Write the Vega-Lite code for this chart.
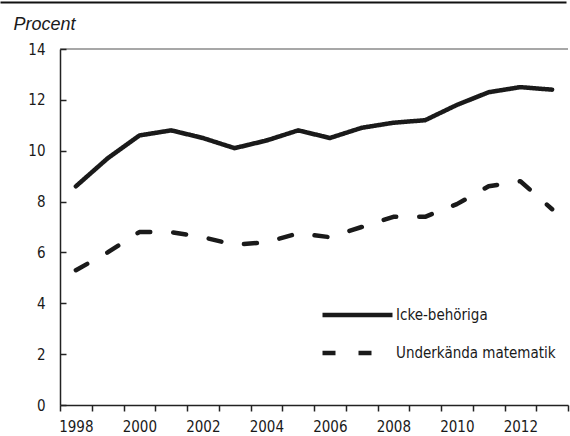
{
  "$schema": "https://vega.github.io/schema/vega-lite/v6.json",
  "width": 508,
  "height": 356,
  "autosize": {"type": "none"},
  "padding": {"left": 60, "top": 49, "right": 2, "bottom": 31},
  "config": {
    "font": "DejaVu Sans Condensed",
    "view": {"stroke": "#8a8a8a", "strokeWidth": 1.5, "strokeDash": [508, 5000]},
    "axis": {"labelFont": "DejaVu Sans Condensed", "labelFontSize": 15, "labelColor": "#1a1a1a", "domainColor": "#222", "tickColor": "#222", "grid": false}
  },
  "data": {
    "values": [
      {"year": 1998, "serie": "Icke-behöriga", "value": 8.6},
      {"year": 1999, "serie": "Icke-behöriga", "value": 9.7},
      {"year": 2000, "serie": "Icke-behöriga", "value": 10.6},
      {"year": 2001, "serie": "Icke-behöriga", "value": 10.8},
      {"year": 2002, "serie": "Icke-behöriga", "value": 10.5},
      {"year": 2003, "serie": "Icke-behöriga", "value": 10.1},
      {"year": 2004, "serie": "Icke-behöriga", "value": 10.4},
      {"year": 2005, "serie": "Icke-behöriga", "value": 10.8},
      {"year": 2006, "serie": "Icke-behöriga", "value": 10.5},
      {"year": 2007, "serie": "Icke-behöriga", "value": 10.9},
      {"year": 2008, "serie": "Icke-behöriga", "value": 11.1},
      {"year": 2009, "serie": "Icke-behöriga", "value": 11.2},
      {"year": 2010, "serie": "Icke-behöriga", "value": 11.8},
      {"year": 2011, "serie": "Icke-behöriga", "value": 12.3},
      {"year": 2012, "serie": "Icke-behöriga", "value": 12.5},
      {"year": 2013, "serie": "Icke-behöriga", "value": 12.4},
      {"year": 1998, "serie": "Underkända matematik", "value": 5.3},
      {"year": 1999, "serie": "Underkända matematik", "value": 6.0},
      {"year": 2000, "serie": "Underkända matematik", "value": 6.8},
      {"year": 2001, "serie": "Underkända matematik", "value": 6.8},
      {"year": 2002, "serie": "Underkända matematik", "value": 6.6},
      {"year": 2003, "serie": "Underkända matematik", "value": 6.3},
      {"year": 2004, "serie": "Underkända matematik", "value": 6.4},
      {"year": 2005, "serie": "Underkända matematik", "value": 6.75},
      {"year": 2006, "serie": "Underkända matematik", "value": 6.6},
      {"year": 2007, "serie": "Underkända matematik", "value": 7.0},
      {"year": 2008, "serie": "Underkända matematik", "value": 7.4},
      {"year": 2009, "serie": "Underkända matematik", "value": 7.4},
      {"year": 2010, "serie": "Underkända matematik", "value": 7.9},
      {"year": 2011, "serie": "Underkända matematik", "value": 8.6},
      {"year": 2012, "serie": "Underkända matematik", "value": 8.8},
      {"year": 2013, "serie": "Underkända matematik", "value": 7.7}
    ]
  },
  "layer": [
    {
      "mark": {"type": "line", "color": "#1a1a1a", "strokeWidth": 4.5, "strokeCap": "round", "strokeJoin": "round"},
      "encoding": {
        "x": {
          "field": "year", "type": "ordinal",
          "scale": {"type": "band", "paddingInner": 0, "paddingOuter": 0},
          "axis": {"tickBand": "extent", "labelAngle": 0, "labelExpr": "datum.value % 2 == 0 ? datum.label : ''", "tickSize": 6, "labelPadding": 8, "title": null, "domainWidth": 1.5, "tickWidth": 1.5}
        },
        "y": {
          "field": "value", "type": "quantitative",
          "scale": {"domain": [0, 14]},
          "axis": {"values": [0, 2, 4, 6, 8, 10, 12, 14], "tickSize": -6, "labelPadding": 21, "domainWidth": 1.5, "tickWidth": 1.5,
            "title": "Procent", "titleAngle": 0, "titleAlign": "left", "titleBaseline": "alphabetic", "titleX": -47, "titleY": -20,
            "titleFont": "Liberation Sans", "titleFontStyle": "italic", "titleFontWeight": "normal", "titleFontSize": 18, "titleColor": "#1a1a1a"}
        },
        "strokeDash": {
          "field": "serie", "type": "nominal",
          "scale": {"domain": ["Icke-behöriga", "Underkända matematik"], "range": [[1, 0], [13, 23]]},
          "legend": {"orient": "none", "legendX": 260, "legendY": 256, "title": null, "symbolType": "stroke", "symbolSize": 4900, "symbolStrokeWidth": 4.5, "symbolStrokeColor": "#1a1a1a", "labelFontSize": 15, "labelFont": "DejaVu Sans Condensed", "labelOffset": 1, "labelLimit": 300, "clipHeight": 20, "rowPadding": 18, "labelColor": "#1a1a1a", "padding": 0}
        }
      }
    },
    {
      "mark": {"type": "line", "opacity": 0},
      "encoding": {
        "x": {
          "field": "year", "type": "ordinal",
          "scale": {"type": "point", "range": [-60, 506]},
          "axis": {"orient": "top", "offset": 47, "domainColor": "#111", "domainWidth": 2, "ticks": false, "labels": false, "title": null}
        },
        "y": {"field": "value", "type": "quantitative"}
      }
    }
  ],
  "resolve": {"scale": {"x": "independent"}, "axis": {"x": "independent"}}
}
